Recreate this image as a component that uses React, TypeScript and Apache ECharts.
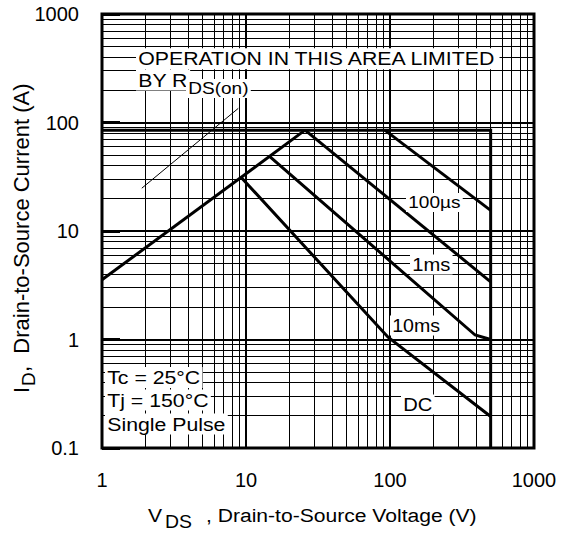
import React, { useEffect, useRef } from 'react';
import * as echarts from 'echarts';

// Tick labels
const xTickLabels = ['1', '10', '100', '1000'];
const yTickLabels = ['0.1', '1', '10', '100', '1000'];

// Log-paper minor grid (2..9 of every decade)
const gridMultipliers = [2, 3, 4, 5, 6, 7, 8, 9];
const xDecades = [1, 10, 100];
const yDecades = [0.1, 1, 10, 100];

// Safe operating area curves [V_DS (V), I_D (A)]
const rdsOnLimit = [[1, 3.55], [25.7, 85]];
const currentLimit = [[1, 85], [500, 85], [500, 0.1]];
const pulse100us = [[92, 85], [500, 15.5]];
const pulse1ms = [[25.7, 85], [500, 3.4]];
const pulse10ms = [[14.5, 49], [390, 1.1], [500, 1.0]];
const dcOperation = [[9.3, 31], [97, 1.05], [500, 0.195]];
const leaderLine = [[1.89, 24.8], [8.84, 135]];

const FONT = '"Liberation Sans", Arial, Helvetica, sans-serif';

function txt(text: string, x: number, y: number, size: number, opts: any = {}) {
  const bg = opts.bg !== false;
  return {
    type: 'text',
    x,
    y,
    z: 100,
    scaleX: opts.scaleX ?? 1.12,
    scaleY: opts.scaleY ?? 1,
    rotation: opts.rotation ?? 0,
    silent: true,
    style: {
      text,
      fontSize: size,
      fontFamily: FONT,
      fill: '#000',
      align: 'left',
      verticalAlign: 'middle',
      textAlign: 'left',
      textVerticalAlign: 'middle',
      backgroundColor: bg ? '#fff' : undefined,
      padding: bg ? [1, 2, 1, 2] : 0,
    },
  };
}

function curve(name: string, data: number[][], width = 3) {
  return {
    name,
    type: 'line',
    data,
    symbol: 'none',
    showSymbol: false,
    silent: true,
    z: 3,
    lineStyle: { color: '#000', width, cap: 'butt', join: 'miter' },
  };
}

export default function App() {
  const ref = useRef<HTMLDivElement>(null);

  useEffect(() => {
    if (!ref.current) return;
    const chart = echarts.init(ref.current, undefined, { renderer: 'svg' });

    const minorX: number[] = [];
    xDecades.forEach((d) => gridMultipliers.forEach((m) => minorX.push(d * m)));
    const minorY: number[] = [];
    yDecades.forEach((d) => gridMultipliers.forEach((m) => minorY.push(d * m)));

    const markData: any[] = [
      ...minorX.map((v) => ({ xAxis: v })),
      ...minorY.map((v) => ({ yAxis: v })),
    ];

    const option: any = {
      animation: false,
      backgroundColor: '#fff',
      grid: {
        left: 102,
        right: 30,
        top: 14,
        bottom: 85,
        show: true,
        borderColor: '#000',
        borderWidth: 3,
        backgroundColor: 'transparent',
      },
      xAxis: {
        type: 'log',
        logBase: 10,
        min: 1,
        max: 1000,
        axisLine: { show: false },
        axisTick: { show: false },
        splitLine: { show: true, lineStyle: { color: '#000', width: 2 } },
        axisLabel: {
          color: '#000',
          fontSize: 20,
          fontFamily: FONT,
          margin: 22,
          formatter: (v: number) => xTickLabels[Math.round(Math.log10(v))] ?? '',
        },
      },
      yAxis: {
        type: 'log',
        logBase: 10,
        min: 0.1,
        max: 1000,
        axisLine: { show: false },
        axisTick: { show: true, inside: true, length: 18, lineStyle: { color: '#000', width: 3 } },
        splitLine: { show: true, lineStyle: { color: '#000', width: 2 } },
        axisLabel: {
          color: '#000',
          fontSize: 20,
          fontFamily: FONT,
          margin: 23,
          formatter: (v: number) => yTickLabels[Math.round(Math.log10(v)) + 1] ?? '',
        },
      },
      series: [
        {
          name: 'grid',
          type: 'line',
          data: leaderLine,
          symbol: 'none',
          showSymbol: false,
          silent: true,
          z: 3,
          lineStyle: { color: '#000', width: 1 },
          markLine: {
            z: 1,
            silent: true,
            symbol: ['none', 'none'],
            label: { show: false },
            emphasis: { disabled: true },
            lineStyle: { type: 'solid', color: '#000', width: 1 },
            data: markData,
          },
        },
        curve('RDS(on) limit', rdsOnLimit),
        curve('Current limit', currentLimit),
        curve('100us', pulse100us),
        curve('1ms', pulse1ms),
        curve('10ms', pulse10ms),
        curve('DC', dcOperation),
      ],
      graphic: [
        txt('OPERATION IN THIS AREA LIMITED', 136, 58.8, 19),
        txt('BY R', 136, 80, 19),
        txt('DS(on)', 186, 88.4, 17),
        txt('100µs', 406, 202.5, 17),
        txt('1ms', 410, 264.5, 18),
        txt('10ms', 390, 325.5, 17.5),
        txt('DC', 401, 404.5, 18),
        txt('Tc = 25°C', 105, 377.5, 19),
        txt('Tj = 150°C', 105, 400, 19),
        txt('Single Pulse', 105, 424, 19),
        // x-axis title
        txt('V', 148, 515.3, 19, { bg: false, scaleX: 1.11 }),
        txt('DS', 165, 522, 17.5, { bg: false, scaleX: 1.11 }),
        txt(', Drain-to-Source Voltage (V)', 206, 515.3, 19, { bg: false, scaleX: 1.11 }),
        // y-axis title (rotated)
        txt('I', 21.3, 393, 22, { bg: false, scaleX: 1, rotation: Math.PI / 2 }),
        txt('D', 28.3, 386, 19, { bg: false, scaleX: 1, rotation: Math.PI / 2 }),
        txt(',  Drain-to-Source Current (A)', 21.3, 372, 22, { bg: false, scaleX: 1, rotation: Math.PI / 2 }),
      ],
    };

    chart.setOption(option);
    return () => chart.dispose();
  }, []);

  return (
    <div
      ref={ref}
      style={{ position: 'fixed', left: 0, top: 0, width: 564, height: 533, background: '#fff' }}
    />
  );
}
